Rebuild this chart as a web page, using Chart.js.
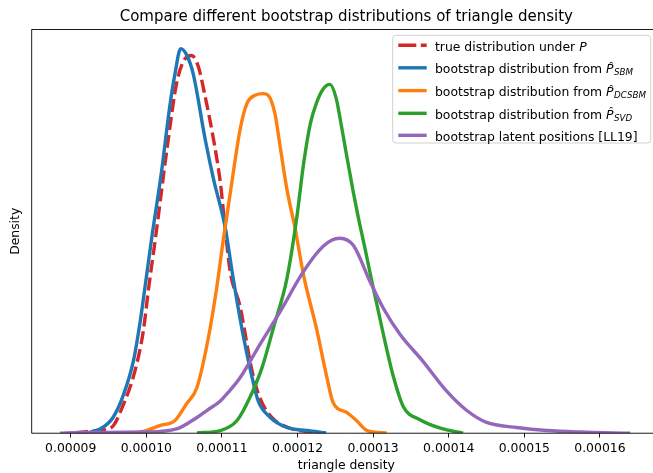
<!DOCTYPE html>
<html>
<head>
<meta charset="utf-8">
<script src="https://cdn.jsdelivr.net/npm/chart.js@4/dist/chart.umd.min.js"></script>
<style>
html, body { margin: 0; padding: 0; overflow: hidden; background: #fff; }
canvas { display: block; }
</style>
</head>
<body>
<canvas id="c" width="661" height="473"></canvas>
<script>
// ---- data (x in triangle density, y in relative density units) ----
const xTicks = [0.00009, 0.00010, 0.00011, 0.00012, 0.00013, 0.00014, 0.00015, 0.00016];

const xTrue = [9.06e-5, 9.21e-5, 9.39e-5, 9.54e-5, 9.70e-5, 9.85e-5, 9.96e-5, 10.03e-5, 10.12e-5, 10.29e-5, 10.40e-5, 10.51e-5, 10.60e-5, 10.69e-5, 10.78e-5, 10.89e-5, 10.98e-5, 11.04e-5, 11.11e-5, 11.24e-5, 11.39e-5, 11.50e-5, 11.66e-5, 11.90e-5, 12.30e-5];
const yTrue = [0.001, 0.004, 0.008, 0.015, 0.076, 0.162, 0.265, 0.376, 0.505, 0.763, 0.909, 0.973, 0.982, 0.952, 0.874, 0.763, 0.651, 0.539, 0.420, 0.330, 0.170, 0.093, 0.041, 0.013, 0.001];

const xSBM = [9.26e-5, 9.39e-5, 9.56e-5, 9.70e-5, 9.83e-5, 9.92e-5, 9.98e-5, 10.07e-5, 10.20e-5, 10.31e-5, 10.38e-5, 10.455e-5, 10.53e-5, 10.62e-5, 10.78e-5, 10.89e-5, 11.04e-5, 11.15e-5, 11.28e-5, 11.39e-5, 11.48e-5, 11.64e-5, 11.86e-5, 12.12e-5, 12.38e-5];
const ySBM = [0.003, 0.011, 0.041, 0.101, 0.188, 0.291, 0.376, 0.505, 0.678, 0.849, 0.935, 1.0, 0.985, 0.935, 0.763, 0.660, 0.539, 0.402, 0.256, 0.153, 0.084, 0.041, 0.015, 0.007, 0.001];

const xDCSBM = [9.87e-5, 10.00e-5, 10.18e-5, 10.38e-5, 10.53e-5, 10.67e-5, 10.82e-5, 10.93e-5, 11.02e-5, 11.06e-5, 11.15e-5, 11.24e-5, 11.33e-5, 11.44e-5, 11.55e-5, 11.61e-5, 11.70e-5, 11.77e-5, 11.86e-5, 11.97e-5, 12.08e-5, 12.25e-5, 12.39e-5, 12.47e-5, 12.65e-5, 12.78e-5, 12.92e-5, 13.18e-5];
const yDCSBM = [0.001, 0.007, 0.020, 0.033, 0.076, 0.119, 0.247, 0.376, 0.505, 0.557, 0.677, 0.789, 0.857, 0.879, 0.883, 0.879, 0.832, 0.746, 0.634, 0.531, 0.411, 0.273, 0.144, 0.080, 0.054, 0.033, 0.007, 0.001];

const xSVD = [10.67e-5, 10.98e-5, 11.20e-5, 11.37e-5, 11.53e-5, 11.68e-5, 11.86e-5, 11.99e-5, 12.08e-5, 12.17e-5, 12.25e-5, 12.34e-5, 12.43e-5, 12.51e-5, 12.58e-5, 12.65e-5, 12.74e-5, 12.80e-5, 12.89e-5, 12.98e-5, 13.135e-5, 13.27e-5, 13.40e-5, 13.62e-5, 13.89e-5, 14.19e-5];
const ySVD = [0.001, 0.007, 0.033, 0.093, 0.170, 0.273, 0.402, 0.560, 0.700, 0.805, 0.858, 0.895, 0.907, 0.872, 0.800, 0.722, 0.625, 0.565, 0.483, 0.398, 0.258, 0.146, 0.069, 0.035, 0.013, 0.0];

const xLL19 = [8.86e-5, 9.12e-5, 10.00e-5, 10.40e-5, 10.67e-5, 10.80e-5, 10.98e-5, 11.06e-5, 11.24e-5, 11.50e-5, 11.77e-5, 12.03e-5, 12.12e-5, 12.23e-5, 12.34e-5, 12.45e-5, 12.56e-5, 12.74e-5, 12.96e-5, 13.135e-5, 13.36e-5, 13.66e-5, 13.97e-5, 14.24e-5, 14.50e-5, 14.90e-5, 15.30e-5, 15.74e-5, 16.40e-5];
const yLL19 = [0.0, 0.002, 0.003, 0.011, 0.041, 0.059, 0.084, 0.101, 0.144, 0.230, 0.316, 0.405, 0.432, 0.462, 0.486, 0.502, 0.507, 0.488, 0.394, 0.325, 0.256, 0.187, 0.110, 0.059, 0.028, 0.015, 0.007, 0.003, 0.0];

const seriesNames = [
  'true distribution under P',
  'bootstrap distribution from P\u0302_SBM',
  'bootstrap distribution from P\u0302_DCSBM',
  'bootstrap distribution from P\u0302_SVD',
  'bootstrap latent positions [LL19]'
];

// ---- chart ----
const toPts = (xs, ys) => xs.map((x, i) => ({x: x, y: ys[i]}));
const colors = ['#d62728', '#1f77b4', '#ff7f0e', '#2ca02c', '#9467bd'];
const seriesX = [xTrue, xSBM, xDCSBM, xSVD, xLL19];
const seriesY = [yTrue, ySBM, yDCSBM, ySVD, yLL19];

const datasets = seriesX.map((xs, i) => ({
  label: seriesNames[i],
  data: toPts(xs, seriesY[i]),
  borderColor: colors[i],
  backgroundColor: colors[i],
  borderWidth: 3.4,
  borderDash: i === 0 ? [13, 5] : [],
  pointRadius: 0,
  fill: false,
  cubicInterpolationMode: 'monotone',
  order: 5 - i,
  borderCapStyle: 'butt',
  borderJoinStyle: 'round'
}));

// legend rows: parts of text [text, style]  (n=normal, i=italic, s=subscript italic)
const legendRows = [
  [['true distribution under ', 'n'], ['P', 'i']],
  [['bootstrap distribution from ', 'n'], ['P\u0302', 'i'], ['SBM', 's']],
  [['bootstrap distribution from ', 'n'], ['P\u0302', 'i'], ['DCSBM', 's']],
  [['bootstrap distribution from ', 'n'], ['P\u0302', 'i'], ['SVD', 's']],
  [['bootstrap latent positions [LL19]', 'n']]
];

const spinesPlugin = {
  id: 'spines',
  afterDatasetsDraw(chart) {
    const {ctx, chartArea: a} = chart;
    ctx.save();
    ctx.strokeStyle = '#000';
    ctx.lineWidth = 0.9;
    ctx.beginPath();
    ctx.moveTo(a.left, a.bottom); ctx.lineTo(a.right, a.bottom);
    ctx.moveTo(a.left, a.bottom); ctx.lineTo(a.left, a.top);
    ctx.moveTo(a.left, a.top + 0.1); ctx.lineTo(a.right, a.top + 0.1);
    ctx.stroke();
    ctx.restore();
  }
};

const legendPlugin = {
  id: 'mplLegend',
  afterDraw(chart) {
    const ctx = chart.ctx;
    const bx = 392.7, by = 35.3, bw = 258, bh = 107.7, r = 3;
    ctx.save();
    ctx.beginPath();
    ctx.moveTo(bx + r, by);
    ctx.lineTo(bx + bw - r, by); ctx.arcTo(bx + bw, by, bx + bw, by + r, r);
    ctx.lineTo(bx + bw, by + bh - r); ctx.arcTo(bx + bw, by + bh, bx + bw - r, by + bh, r);
    ctx.lineTo(bx + r, by + bh); ctx.arcTo(bx, by + bh, bx, by + bh - r, r);
    ctx.lineTo(bx, by + r); ctx.arcTo(bx, by, bx + r, by, r);
    ctx.closePath();
    ctx.fillStyle = 'rgba(255,255,255,0.8)';
    ctx.fill();
    ctx.strokeStyle = 'rgba(204,204,204,0.9)';
    ctx.lineWidth = 1;
    ctx.stroke();

    const baselines = [50.7, 73.2, 96.0, 118.7, 140.7];
    chart.data.datasets.forEach((ds, i) => {
      const base = baselines[i];
      const hy = base - 5.4;
      ctx.beginPath();
      ctx.strokeStyle = ds.borderColor;
      ctx.lineWidth = 3.4;
      ctx.lineCap = 'butt';
      ctx.setLineDash(i === 0 ? [18, 4.5] : []);
      ctx.moveTo(398.3, hy); ctx.lineTo(426.7, hy);
      ctx.stroke();
      ctx.setLineDash([]);
      let x = 435;
      ctx.fillStyle = '#000';
      ctx.textBaseline = 'alphabetic';
      ctx.textAlign = 'left';
      legendRows[i].forEach(([t, s]) => {
        if (s === 'n') {
          ctx.font = '12.4px "DejaVu Sans"';
          ctx.fillText(t, x, base);
          x += ctx.measureText(t).width;
        } else if (s === 'i') {
          ctx.font = 'italic 12.4px "DejaVu Sans"';
          ctx.fillText(t, x, base);
          x += ctx.measureText(t).width + 0.5;
        } else {
          ctx.font = 'italic 8.7px "DejaVu Sans"';
          ctx.fillText(t, x, base + 2);
          x += ctx.measureText(t).width;
        }
      });
    });
    ctx.restore();
  }
};

Chart.defaults.font.family = '"DejaVu Sans", sans-serif';
Chart.defaults.color = '#000';

new Chart(document.getElementById('c'), {
  type: 'line',
  data: { datasets: datasets },
  options: {
    responsive: false,
    animation: false,
    devicePixelRatio: 1,
    events: [],
    layout: { padding: 0 },
    plugins: {
      legend: { display: false },
      tooltip: { enabled: false },
      title: {
        display: true,
        text: 'Compare different bootstrap distributions of triangle density',
        font: { size: 15, weight: 'normal', lineHeight: 1.2 },
        color: '#000',
        padding: { top: 7.8, bottom: 3.6 },
        fullSize: false
      }
    },
    scales: {
      x: {
        type: 'linear',
        min: 0.000084841,
        max: 0.00016808,
        afterBuildTicks: (scale) => { scale.ticks = xTicks.map(v => ({ value: v })); },
        ticks: {
          callback: (v) => Number(v).toFixed(5),
          font: { size: 12.4, lineHeight: 1.2 },
          color: '#000',
          padding: 3.5,
          maxRotation: 0,
          autoSkip: false
        },
        grid: {
          display: true,
          drawOnChartArea: false,
          drawTicks: true,
          tickLength: 4.3,
          color: '#000',
          lineWidth: 0.9
        },
        border: { display: false },
        title: {
          display: true,
          text: 'triangle density',
          font: { size: 12.4, lineHeight: 1.0 },
          color: '#000',
          padding: { top: 0.1, bottom: 1.1 }
        }
      },
      y: {
        type: 'linear',
        min: 0,
        max: 1.05,
        ticks: { display: false },
        grid: { display: false, drawTicks: false },
        border: { display: false },
        title: {
          display: true,
          text: 'Density',
          font: { size: 12.4, lineHeight: 1.2 },
          color: '#000',
          padding: { top: 8.55, bottom: 8.25 }
        }
      }
    }
  },
  plugins: [spinesPlugin, legendPlugin]
});
</script>
</body>
</html>
